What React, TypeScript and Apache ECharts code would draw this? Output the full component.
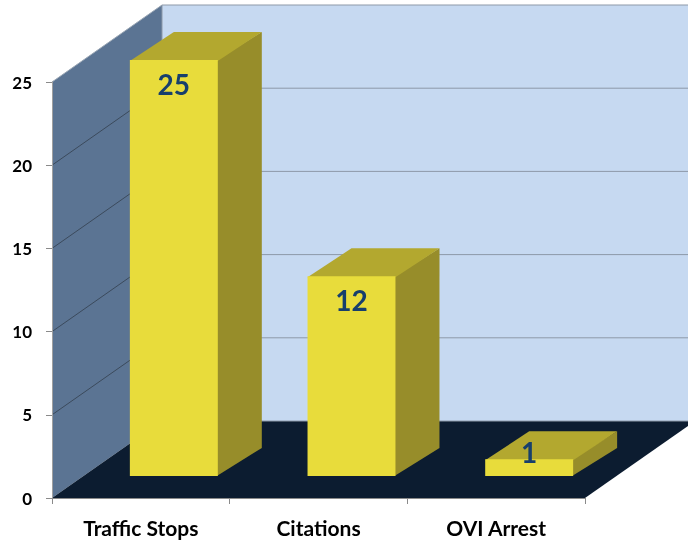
import { useEffect, useRef } from "react";
import * as echarts from "echarts";

const categories = ["Traffic Stops", "Citations", "OVI Arrest"];
const values = [25, 12, 1];
const yMin = 0;
const yMax = 25;
const yStep = 5;
const gridValues = [0, 5, 10, 15, 20, 25];

// 3D projection offsets (pixels)
const BACK_DX = 110;
const BACK_DY = -77;
const BAR_DX = 33;
const BAR_DY = -22;
const DEPTH_DX = 44;
const DEPTH_DY = -28;
const BAR_RATIO = 0.495;

const FONT = "Lato, 'Open Sans', 'DejaVu Sans', sans-serif";

export default function App() {
  const ref = useRef<HTMLDivElement>(null);

  useEffect(() => {
    const chart = echarts.init(ref.current!, null, { renderer: "svg" });

    const wallsRender = (params: any, api: any) => {
      const cs = params.coordSys;
      const x0 = cs.x;
      const x1 = cs.x + cs.width;
      const yt = cs.y;
      const yb = cs.y + cs.height;
      const children: any[] = [];
      children.push({
        type: "polygon",
        shape: {
          points: [
            [x0 + BACK_DX, yt + BACK_DY],
            [x1 + BACK_DX + 40, yt + BACK_DY],
            [x1 + BACK_DX + 40, yb + BACK_DY],
            [x0 + BACK_DX, yb + BACK_DY],
          ],
        },
        style: { fill: "#c6d9f1" },
      });
      children.push({
        type: "polygon",
        shape: {
          points: [
            [x0, yb],
            [x0, yt],
            [x0 + BACK_DX, yt + BACK_DY],
            [x0 + BACK_DX, yb + BACK_DY],
          ],
        },
        style: { fill: "#5b7493" },
      });
      children.push({
        type: "polygon",
        shape: {
          points: [
            [x0, yb],
            [x1, yb],
            [x1 + BACK_DX, yb + BACK_DY],
            [x0 + BACK_DX, yb + BACK_DY],
          ],
        },
        style: { fill: "#0c1c30" },
      });
      gridValues.forEach((v) => {
        const y = api.coord([0, v])[1];
        children.push({
          type: "line",
          shape: { x1: x0 + BACK_DX, y1: y + BACK_DY, x2: x1 + BACK_DX + 40, y2: y + BACK_DY },
          style: { stroke: "#8d99a8", lineWidth: 1 },
        });
        if (v > 0) {
          children.push({
            type: "line",
            shape: { x1: x0, y1: y, x2: x0 + BACK_DX, y2: y + BACK_DY },
            style: { stroke: v === yMax ? "#9aa6b4" : "#3b4a5c", lineWidth: 1 },
          });
        }
      });
      children.push({
        type: "line",
        shape: { x1: x0 + BACK_DX, y1: yt + BACK_DY, x2: x0 + BACK_DX, y2: yb + BACK_DY },
        style: { stroke: "#8d99a8", lineWidth: 1 },
      });
      return { type: "group", children };
    };

    const barsRender = (params: any, api: any) => {
      const idx = api.value(0);
      const v = api.value(1);
      const top = api.coord([idx, v]);
      const base = api.coord([idx, 0]);
      const w = api.size([1, 0])[0] * BAR_RATIO;
      const cx = top[0] + BAR_DX;
      const xl = cx - w / 2;
      const xr = cx + w / 2;
      const yt = top[1] + BAR_DY;
      const yb = base[1] + BAR_DY;
      const h = yb - yt;
      const labelY = h > 50 ? yt + 24 : yt - 7;
      return {
        type: "group",
        children: [
          {
            type: "polygon",
            shape: {
              points: [
                [xr - 1, yb],
                [xr - 1, yt],
                [xr + DEPTH_DX, yt + DEPTH_DY],
                [xr + DEPTH_DX, yb + DEPTH_DY],
              ],
            },
            style: { fill: "#978d2a" },
          },
          {
            type: "polygon",
            shape: {
              points: [
                [xl, yt + 1],
                [xr, yt + 1],
                [xr + DEPTH_DX, yt + DEPTH_DY],
                [xl + DEPTH_DX, yt + DEPTH_DY],
              ],
            },
            style: { fill: "#b3a82f" },
          },
          {
            type: "rect",
            shape: { x: xl, y: yt, width: w, height: h },
            style: { fill: "#e8dc3b" },
          },
          {
            type: "text",
            x: cx,
            y: labelY,
            style: {
              text: String(v),
              fill: "#173f6c",
              fontSize: 28,
              fontWeight: "bold",
              fontFamily: FONT,
              align: "center",
              verticalAlign: "middle",
            },
          },
        ],
      };
    };

    const option = {
      animation: false,
      grid: { left: 52, right: 103, top: 82, bottom: 46 },
      xAxis: {
        type: "category",
        data: categories,
        z: 10,
        axisLine: { lineStyle: { color: "#8a8a8a", width: 1 } },
        axisTick: { show: true, length: 6, lineStyle: { color: "#8a8a8a" } },
        axisLabel: {
          margin: 19,
          color: "#000",
          fontFamily: FONT,
          fontWeight: "bold",
          fontSize: 21,
        },
      },
      yAxis: {
        type: "value",
        min: yMin,
        max: yMax,
        interval: yStep,
        z: 10,
        axisLine: { show: true, lineStyle: { color: "#a0a0a0", width: 1 } },
        axisTick: { show: true, length: 6, lineStyle: { color: "#8a8a8a" } },
        splitLine: { show: false },
        axisLabel: {
          margin: 20,
          color: "#000",
          fontFamily: FONT,
          fontWeight: "bold",
          fontSize: 17,
        },
      },
      series: [
        {
          type: "custom",
          z: 1,
          silent: true,
          clip: false,
          data: [[0, 0]],
          encode: { x: 0, y: 1 },
          renderItem: wallsRender,
        },
        {
          type: "custom",
          z: 3,
          clip: false,
          data: values.map((v, i) => [i, v]),
          encode: { x: 0, y: 1 },
          renderItem: barsRender,
        },
      ],
    };
    chart.setOption(option as any);
    return () => chart.dispose();
  }, []);

  return (
    <div
      ref={ref}
      style={{ position: "fixed", left: 0, top: 0, width: 688, height: 544 }}
    />
  );
}
